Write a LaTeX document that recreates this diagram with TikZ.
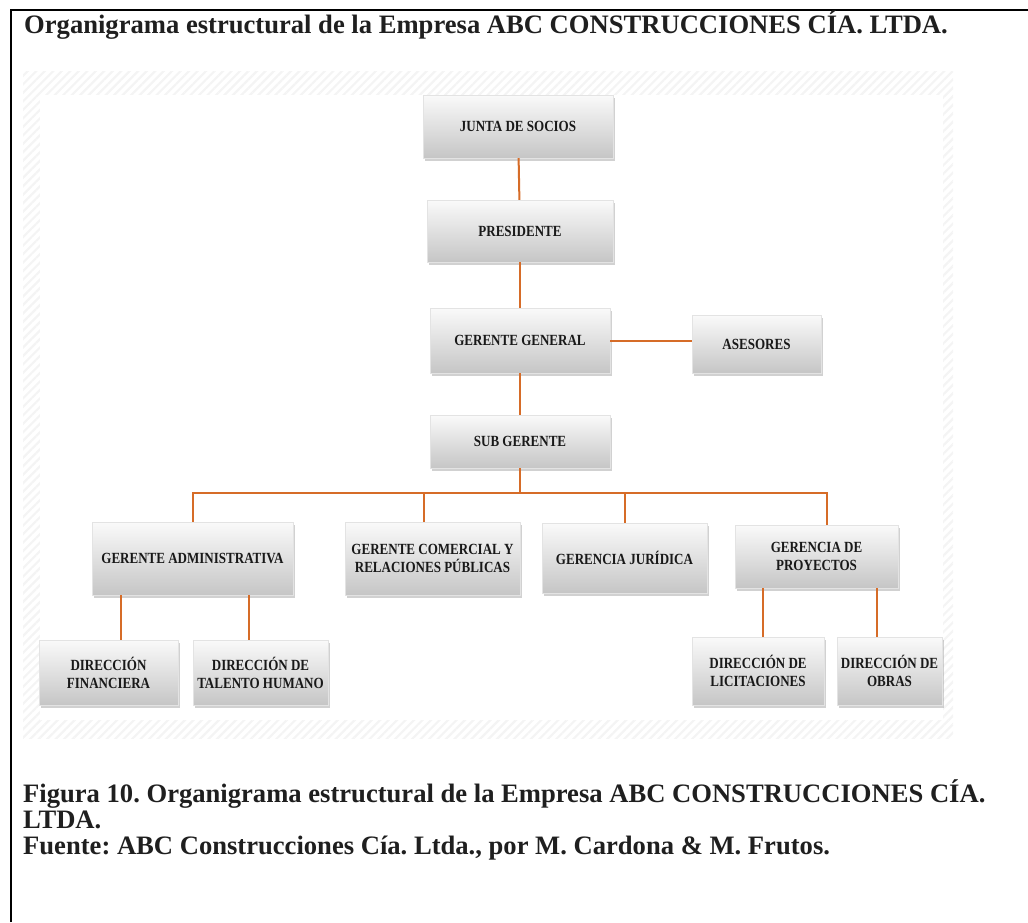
\documentclass[tikz,border=0pt]{standalone}
\usepackage{fontspec}
\setmainfont{Liberation Serif}
\newfontfamily\boxfont{Liberation Serif}[FakeStretch=0.84]
\usetikzlibrary{shadows,patterns.meta}
\definecolor{orgline}{RGB}{214,108,40}
\frenchspacing
\begin{document}
\begin{tikzpicture}[x=1pt,y=-1pt,
  orgbox/.style={rectangle, draw=gray!22, line width=0.4pt, top color=gray!4, bottom color=gray!45,
    drop shadow={shadow xshift=2pt, shadow yshift=-3pt, opacity=0.45, fill=gray!80},
    font=\boxfont\fontsize{15.5}{18}\selectfont\bfseries, align=center, inner sep=0pt, text=black!90},
  sz/.style 2 args={minimum width=#1pt, minimum height=#2pt},
  conn/.style={draw=orgline, line width=2pt},
  heading/.style={anchor=base west, inner sep=0pt, font=\fontsize{26.6}{26}\selectfont\bfseries, text=black!88}]
\useasboundingbox (0,0) rectangle (1028,922);
% frame
\draw[line width=2.6pt] (11,922) -- (11,10) -- (1028,10);
% title
\node[heading] (title) at (24,33) {Organigrama estructural de la Empresa ABC CONSTRUCCIONES CÍA. LTDA.};
% hatched background of the chart
\fill[pattern={Lines[angle=45,distance=6pt,line width=2.2pt]}, pattern color=gray!9] (23,71) rectangle (953,738);
\fill[white] (40,95) rectangle (943,720);
% boxes
\node[orgbox, sz={190}{63}] (junta) at (518,126.5) {JUNTA DE SOCIOS};
\node[orgbox, sz={186}{62}] (pres) at (520,231) {PRESIDENTE};
\node[orgbox, sz={180}{65}] (gg) at (520,340.5) {GERENTE GENERAL};
\node[orgbox, sz={129}{58}] (ases) at (756.5,344) {ASESORES};
\node[orgbox, sz={180}{53}] (sub) at (520,441.5) {SUB GERENTE};
\node[orgbox, sz={201}{73}] (ga) at (192.5,558.5) {GERENTE ADMINISTRATIVA};
\node[orgbox, sz={175}{73}] (gc) at (432.5,558.5) {GERENTE COMERCIAL Y\\RELACIONES PÚBLICAS};
\node[orgbox, sz={165}{70}] (gj) at (624.5,558) {GERENCIA JURÍDICA};
\node[orgbox, sz={163}{63}] (gp) at (816.5,556.5) {GERENCIA DE\\PROYECTOS};
\node[orgbox, sz={139}{65}] (df) at (108.5,672.5) {DIRECCIÓN\\FINANCIERA};
\node[orgbox, sz={135}{65}] (dt) at (260.5,672.5) {DIRECCIÓN DE\\TALENTO HUMANO};
\node[orgbox, sz={132}{68}] (dl) at (758,671) {DIRECCIÓN DE\\LICITACIONES};
\node[orgbox, sz={105}{68}] (do) at (889.5,671) {DIRECCIÓN DE\\OBRAS};
% connectors
\coordinate (bus) at (520,493);
\draw[conn] (junta) -- (pres);
\draw[conn] (pres) -- (gg);
\draw[conn] (gg.east) -- (ases.west |- gg.east);
\draw[conn] (gg) -- (sub);
\draw[conn] (sub.south) -- (bus);
\draw[conn] (ga.north) |- (bus) -| ([xshift=10.5pt]gp.north);
\draw[conn] ([xshift=-8.5pt]gc.north) -- ([xshift=-8.5pt]gc.north |- bus);
\draw[conn] (gj.north) -- (gj.north |- bus);
\draw[conn] ([xshift=-71.5pt]ga.south) -- ([xshift=12.5pt]df.north);
\draw[conn] ([xshift=56.5pt]ga.south) -- ([xshift=-11.5pt]dt.north);
\draw[conn] ([xshift=-53.5pt]gp.south) -- ([xshift=5pt]dl.north);
\draw[conn] ([xshift=60.5pt]gp.south) -- ([xshift=-12.5pt]do.north);
% caption
\node[heading] (cap1) at (23,802) {Figura 10. Organigrama estructural de la Empresa ABC CONSTRUCCIONES CÍA.};
\node[heading] (cap2) at (23,828) {LTDA.};
\node[heading] (cap3) at (23,854) {Fuente: ABC Construcciones Cía. Ltda., por M. Cardona \& M. Frutos.};
\end{tikzpicture}
\end{document}
